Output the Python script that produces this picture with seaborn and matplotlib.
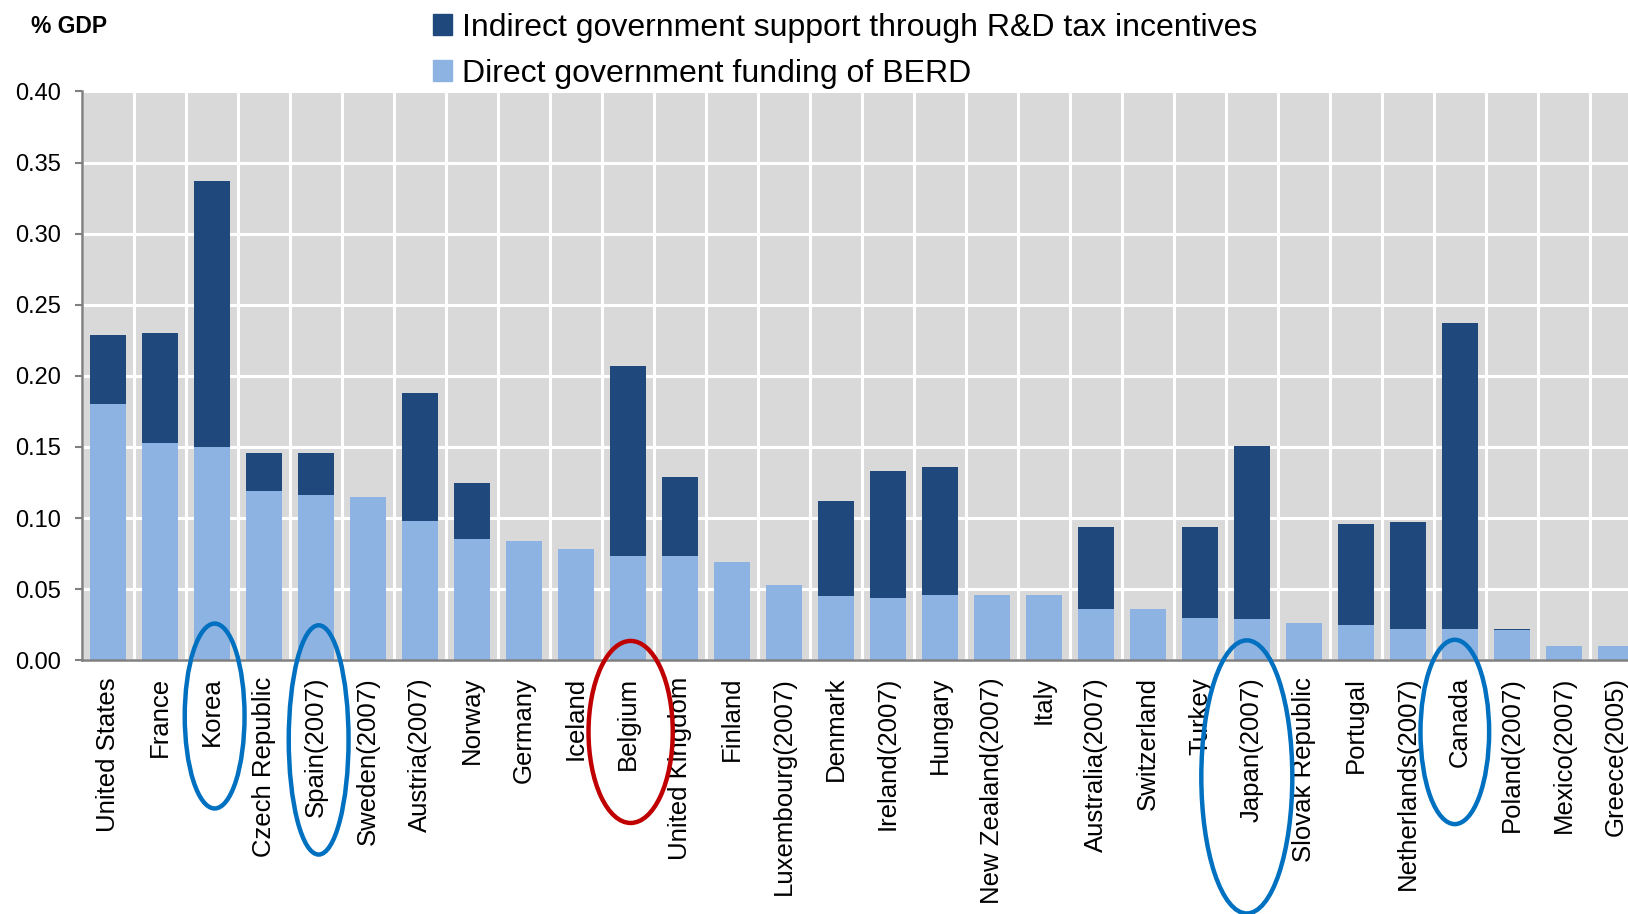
import matplotlib

matplotlib.use("Agg")

import matplotlib.pyplot as plt
import matplotlib.patches as mpatches
import matplotlib.transforms as mtransforms
import numpy as np
import pandas as pd
import seaborn as sns

# ── Data ──────────────────────────────────────────────────────────────────

COUNTRIES = [
    "United States", "France", "Korea", "Czech Republic", "Spain(2007)",
    "Sweden(2007)", "Austria(2007)", "Norway", "Germany", "Iceland",
    "Belgium", "United Kingdom", "Finland", "Luxembourg(2007)", "Denmark",
    "Ireland(2007)", "Hungary", "New Zealand(2007)", "Italy", "Australia(2007)",
    "Switzerland", "Turkey", "Japan(2007)", "Slovak Republic", "Portugal",
    "Netherlands(2007)", "Canada", "Poland(2007)", "Mexico(2007)", "Greece(2005)",
]

DIRECT = [
    0.180, 0.153, 0.150, 0.119, 0.116,
    0.115, 0.098, 0.085, 0.084, 0.078,
    0.073, 0.073, 0.069, 0.053, 0.045,
    0.044, 0.046, 0.046, 0.046, 0.036,
    0.036, 0.030, 0.029, 0.026, 0.025,
    0.022, 0.022, 0.021, 0.010, 0.010,
]

INDIRECT = [
    0.049, 0.077, 0.187, 0.027, 0.030,
    0.000, 0.090, 0.040, 0.000, 0.000,
    0.134, 0.056, 0.000, 0.000, 0.067,
    0.089, 0.090, 0.000, 0.000, 0.058,
    0.000, 0.064, 0.122, 0.000, 0.071,
    0.075, 0.215, 0.001, 0.000, 0.000,
]

Y_TICKS = [0.00, 0.05, 0.10, 0.15, 0.20, 0.25, 0.30, 0.35, 0.40]

LABEL_INDIRECT = "Indirect government support through R&D tax incentives"
LABEL_DIRECT = "Direct government funding of BERD"

# highlighted countries: (name, colour)
HIGHLIGHTS = [
    ("Korea", "#0070C0"),
    ("Spain(2007)", "#0070C0"),
    ("Belgium", "#C00000"),
    ("Japan(2007)", "#0070C0"),
    ("Canada", "#0070C0"),
]

DARK = "#1F497D"
LIGHT = "#8DB3E2"
BG = "#D9D9D9"

# ── Plot ──────────────────────────────────────────────────────────────────

plt.rcParams["font.family"] = ["Liberation Sans", "DejaVu Sans"]

df = pd.DataFrame({"country": COUNTRIES, "direct": DIRECT, "indirect": INDIRECT})
df["total"] = df["direct"] + df["indirect"]

fig = plt.figure(figsize=(16.28, 9.14), dpi=100)
ax = fig.add_axes([0.0504, 0.2776, 0.9582, 0.6224])
ax.set_facecolor(BG)

sns.barplot(data=df, x="country", y="total", color=DARK, width=0.68,
            saturation=1, ax=ax, zorder=3)
sns.barplot(data=df, x="country", y="direct", color=LIGHT, width=0.68,
            saturation=1, ax=ax, zorder=4)

ax.set_xlim(-0.5, len(COUNTRIES) - 0.5)
ax.set_ylim(0, 0.40)
ax.set_yticks(Y_TICKS)
ax.set_yticklabels([f"{v:.2f}" for v in Y_TICKS], fontsize=17)
ax.set_xticks(range(len(COUNTRIES)))
ax.set_xticklabels(COUNTRIES, rotation=90, fontsize=18.5, va="top", ha="center")
ax.set_xticks(np.arange(len(COUNTRIES) + 1) - 0.5, minor=True)

# nudge category labels slightly right, as in the original
shift = mtransforms.ScaledTranslation(4 / 100, 0, fig.dpi_scale_trans)
for lab in ax.get_xticklabels():
    lab.set_transform(lab.get_transform() + shift)

ax.grid(axis="y", which="major", color="white", linewidth=2.2, zorder=1)
ax.grid(axis="x", which="minor", color="white", linewidth=2.2, zorder=1)
ax.grid(axis="x", which="major", visible=False)
ax.set_axisbelow(True)

ax.tick_params(axis="x", which="both", length=0, pad=12)
ax.tick_params(axis="y", length=5, width=1.5, color="#808080", pad=10)

for side in ("top", "right"):
    ax.spines[side].set_visible(False)
for side in ("left", "bottom"):
    ax.spines[side].set_color("#808080")
    ax.spines[side].set_linewidth(1.8)
    ax.spines[side].set_zorder(5)

ax.set_xlabel("")
ax.set_ylabel("")

# "% GDP" unit label
fig.text(0.019, 0.971, "% GDP", fontsize=16.5, fontweight="bold", ha="left", va="center")

# legend
handles = [
    mpatches.Patch(color=DARK, label=LABEL_INDIRECT),
    mpatches.Patch(color=LIGHT, label=LABEL_DIRECT),
]
fig.legend(handles=handles, loc="upper left", bbox_to_anchor=(0.258, 1.0),
           frameon=False, fontsize=23, handlelength=0.6, handleheight=0.6,
           handletextpad=0.3, labelspacing=0.5, borderaxespad=0)

# ellipses around highlighted country labels
trans = mtransforms.blended_transform_factory(ax.transData, ax.transAxes)
ellipse_geom = {
    "Korea": (-0.098, 1.15, 0.325),
    "Spain(2007)": (-0.140, 1.15, 0.403),
    "Belgium": (-0.126, 1.62, 0.320),
    "Japan(2007)": (-0.205, 1.75, 0.480),
    "Canada": (-0.126, 1.32, 0.324),
}
for name, col in HIGHLIGHTS:
    idx = COUNTRIES.index(name)
    cy, w, h = ellipse_geom[name]
    xc = idx - 0.1 if name in ("Japan(2007)", "Canada") else idx + 0.05
    e = mpatches.Ellipse((xc, cy), w, h, transform=trans, fill=False,
                         edgecolor=col, linewidth=3.2, clip_on=False, zorder=10)
    ax.add_patch(e)

fig.savefig("out.png", dpi=100)
plt.close(fig)
